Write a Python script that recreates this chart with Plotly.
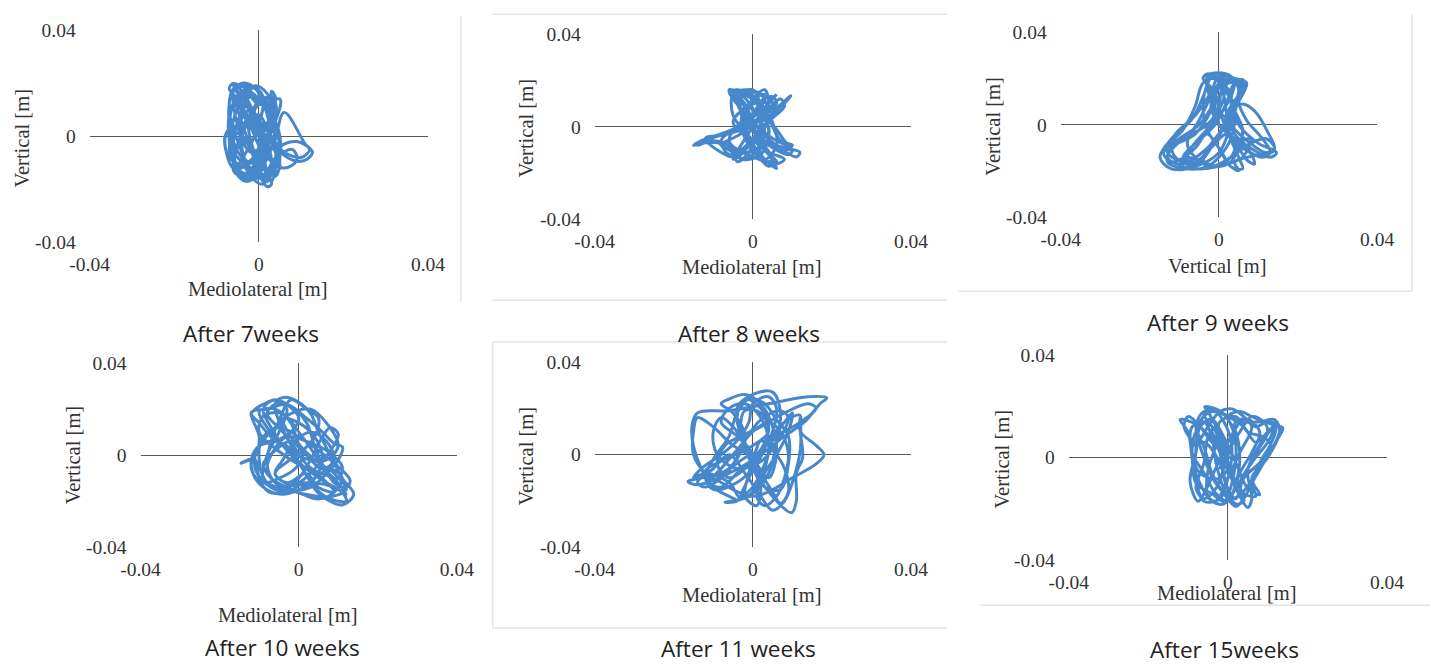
import plotly.graph_objects as go

W, H = 1431, 666

# ---------------- data (mm) ----------------
p7_x = [0, 0, -5, -6, -3, 2, 4, 3, 1, -4, -7, -6, -2, 1, -1, -5, -3, 1, 3, 3, 4, 2, -2, -6, -8, -7, -4, 0, 3, 2, 0, -2,
        -5, -6, -4, 0, 5, 4, 0, -5, -1, 4, 5, 2, -3, -6, -7, -6, -2, 3, 6, 11, 12.7, 11, 8, 4, 2, 0, -3, -4, -2, 1, 4,
        8, 9, 6, 2, 0, -3, -6, -5, -2, 1, 0,
        -3, -6, -5, -2, 1, 2, -1, -6, -7, -4, -1, 2, 3, 5, 3, -1, -3, -5, -3, 0, 3, 4, 2, 0, -4, -6, -5, -2, 0, -3,
        -6, -7, -5, -2, 2, 3, 1, -1, 1, 3, 1, -3, -7, -8, -6, -3, 0, 4, 5, 4, 2, -2, -4, -4, -1, 3, 5, 9, 12, 10, 6,
        3, 0, -4, -6, -6, -3, 0, 2, 0,
        -2, -5, -7, -6, -4, -1, 1, 0, -3, -6, -5, -2, 2, 4, 3, 0, -3, -5, -6, -4, -1, 2, 4, 2, -1, -4, -7, -5, -2, 1,
        3, 1, -2, -4, -3, 0]
p7_y = [0, 2, 19, 20, 18, 10, -5, -17, -12, -8, 5, 17, 19, 15, 0, -13, -15, -10, 5, 17, 14, 5, -10, -12, -1, 2, 0, -8,
        -18, -19, -14, -4, 10, 18, 19, 12, 14, 6, -6, -14, -16, -12, 0, 10, 16, 12, -2, -9, -12, -5, 9, -3, -6, -9, -9,
        -4, 3, 8, 6, -4, -14, -15, -8, -5, -9, -12, -8, 0, 8, 15, 4, -6, -3, 0,
        12, 19, 16, 4, -8, -16, -13, -6, 8, 17, 18, 8, -2, -12, -14, -6, 6, 14, 17, 14, 15, 12, 0, -11, -15, -13, -4,
        8, 16, 20, 18, 10, -2, -12, -17, -10, 0, 10, 14, 9, -3, -11, -8, 0, 4, -2, -10, -15, -8, 4, 12, 15, 8, -6,
        -14, -13, -4, -2, -5, -8, -6, 0, 6, 12, 6, -8, -16, -12, -2, 0,
        6, 14, 18, 20, 17, 8, -4, -14, -17, -12, -3, 8, 14, 12, 2, -8, -14, -12, -2, 10, 19, 16, 4, -8, -16, -14, -5,
        4, 10, 2, -10, -18, -15, -6, 4, 0]

p8_x = [0, -4, -6, -3, 2, 4, 2, -3, -6, -13, -15, -13, -5, 0, 3, 1, -3, -2, 1, 5, 6, 4, -1, -5, -5, -2, 2, 5, 9, 9.6,
        8, 3, -2, -5, -9, -12, -6, 0, 4, 7, 8, 4, 2, 8, 11.9, 11, 6, 2, -1, -4, -5, -2, 1, 3, 8, 6, 0, -4, -8, -3, 2, 6,
        5, 2, 0, -3, -6, -2, 3, 4, 1, -2, 0,
        -3, -5, -4, 0, 2, 1, -2, -4, -5, -10, -14, -11, -4, 2, 5, 3, -1, -3, -1, 3, 5, 2, -2, -4, -2, 1, 3, 6, 8, 5,
        1, -3, -6, -8, -4, 0, -3, -6, -4, 0, 5, 10, 9, 4, 0, -2, 0, 3, 4, 2, 3, 6, 4, 1, -2, -5, -2, 2, 4, 7, 10, 7,
        3, 0,
        -2, -5, -6, -3, 0, 3, 1, -2, -6, -10, -13, -9, -4, 0, 4, 6, 3, 0, -3, -5, -3, 1, 4, 8, 10, 6, 2, -1, -3, 0, 2,
        5, 6, 3, 0]
p8_y = [0, 14, 16, 15, 8, -2, -12, -14, -8, -7, -8, -6, -1, 5, 12, 15, 12, 0, -10, -17, -18, -12, -4, 5, 14, 16, 14,
        6, 12, 13.5, 11, 0, -9, -13, -10, -5, -3, 2, 8, 12, 9, 2, -5, -9, -11, -13, -8, -2, 6, 13, 15, 10, -3, -10,
        -14, -16, -13, -10, -8, -3, 4, 10, 13, 11, 5, 2, -6, -11, -8, 0, 6, 9, 0,
        8, 15, 16, 13, 6, -4, -13, -15, -9, -6, -8, -5, -2, 3, 10, 14, 10, 2, -8, -15, -14, -6, 4, 11, 15, 12, 3, 8,
        11, 5, -3, -10, -12, -6, 0, 6, 14, 15, 10, 2, -5, -10, -12, -8, -2, 5, 12, 16, 10, 0, -10, -15, -17, -12, -4,
        2, 8, 10, 4, -6, -8, -10, -6, 0,
        6, 12, 16, 14, 8, -2, -10, -14, -10, -6, -7, -4, -1, 4, 10, 14, 8, 0, -8, -14, -12, -4, 2, -6, -10, -8, -2, 6,
        14, 16, 10, 2, -8, -14, 0]

p9_x = [0, -3, -1, 3, 5, 3, 0, -6, -12, -14.9, -12, -7, -4, -2, 2, 6, 6.6, 3, 0, -5, -10, -13, -9, -3, 1, 2, 4, 3, 5,
        10, 14.6, 13, 8, 4, 2, 6, 9, 12, 14, 10, 4, 5, 3, 0, -3, -6, -10, -13, -11, -6, -2, 0, 4, 7, 5, 2, -1, -4, -1,
        3, 5, 8, 6, 2, -4, -9, -7, -3, 1, 3, 0, -2, 0,
        -2, -3, 0, 2, 4, 3, 0, -3, -8, -13, -12, -6, -2, 0, 3, 5, 4, 1, -2, -5, -9, -6, -1, 2, 4, 6, 5, 7, 11, 13, 11,
        7, 3, 1, -1, -3, -4, -3, 0, 3, 6, 5, 3, 2, 1, -1, -4, -6, -9, -12, -11, -7, -3, 0, 3, 6, 4, 1, 0, -2, -5, -8,
        -10, -6, -2, 2, 5, 7, 9, 8, 4, 0,
        -1, -2, -4, -3, 0, 2, 4, 6, 5, 3, 0, -4, -8, -12, -14, -10, -5, -1, 2, 1, -2, -5, -8, -6, -2, 3, 8, 12, 14, 12,
        8, 4, 1, -1, 0]
p9_y = [0, 21, 22.4, 21, 15, 0, -12, -18, -19, -14, -6, 2, 12, 20, 18, 19.5, 17, 8, -4, -13, -17, -14, -6, 0, 10, 20,
        19, 10, 0, -8, -12, -14, -10, -4, 5, 9, 6, -2, -11, -13, -16, -19.8, -18, -10, -4, -10, -15, -12, -4, 4, 14,
        21, 20, 18, 10, 0, -6, -15, -18, -14, -8, -6, -14, -17, -19, -18, -10, -2, 6, 14, 17, 8, 0,
        10, 20, 22, 16, 6, -6, -14, -18, -19, -16, -10, -4, 6, 16, 20, 18, 8, -2, -10, -16, -14, -8, 0, 10, 18, 18,
        10, 2, -6, -12, -14, -11, -6, 2, 12, 16, 8, -2, -10, -18, -19, -14, -6, 4, 14, 20, 18, 8, -2, -8, -14, -17,
        -12, -4, 6, 14, 20, 17, 8, 0, -6, -12, -18, -17, -10, -4, -10, -15, -17, -12, -6, 0,
        8, 16, 20, 22, 20, 14, 6, -2, -10, -16, -18, -16, -14, -16, -12, -6, 0, 10, 18, 20, 12, 2, -8, -14, -18, -14,
        -8, -6, -10, -12, -8, -2, 4, 2, 0]

p10_x = [0, -6, -4, 0, 3, 5, 8, 11, 13.9, 11, 6, 2, -3, -7.6, -10, -11, -14.6, -11, -10, -12, -8, -3, 2, 6, 9, 11.1,
         10, 7, 3, -2, -6, -8, -7, -5, -2, 2, 5, 4, 1, -3, -6, -2, 4, 9, 12, 10, 6, 3, 0, -4, -9, -10, -6, 0, 6, 10, 11,
         7, 2, -3, -6, -8, -4, 2, 8, 12, 9, 4, 0, -2, -6, -10, -8, -4, 0,
         -4, -8, -6, -2, 2, 4, 6, 9, 12, 13, 10, 5, 0, -5, -9, -10, -8, -4, 0, 3, 6, 8, 10, 8, 4, 0, -5, -9, -8, -5,
         -3, -6, -9, -7, -3, 2, 7, 11, 12, 8, 4, 1, -2, -6, -10, -11, -7, -2, 3, 6, 4, 0, -4, -2, 2, 6, 9, 7, 3, -1,
         -4, -6, -3, 2, 5, 9, 6, 2, 0,
         -3, -7, -10, -12, -11, -9, -6, -3, 0, -2, -6, -10, -12, -11, -8, -4, 0, 4, 8, 11, 9, 5, 1, -3, -7, -9, -6, -2,
         1, -1, -5, -9, -12, -10, -6, -2, 3, 7, 10, 7, 3, 0]
p10_y = [0, 22, 25, 23, 18, 10, 0, -10, -17, -21.6, -18, -12, -16, -16, -10, -2, -3.5, 0, 8, 18.6, 20, 22, 16, 10, 5,
         3.5, -2, -8, -14, -15, -12, -4, 6, 15, 24, 20, 16, 8, 2, -3, -8, -13, -12, -14, -17, -12, -5, 3, 10, 18, 17,
         10, 3, -4, -8, -10, -5, 2, 6, 8, 3, -7, -14, -17, -18, -15, -8, -2, 5, 14, 20, 19, 12, 4, 0,
         10, 18, 22, 21, 14, 4, -4, -12, -14, -11, -5, 2, 8, 12, 8, -2, -12, -15, -10, -2, 8, 12, 9, 2, -6, -12, -14,
         -10, 0, 10, 20, 24, 20, 12, 2, -6, -12, -16, -20, -19, -14, -6, 2, 6, 4, -6, -14, -16, -12, -2, 8, 14, 16, 8,
         0, -6, -2, 6, 10, 6, -2, -8, -12, -8, -14, -16, -10, -4, 0,
         4, 8, 14, 18, 20, 22, 24, 22, 16, 10, 6, 4, -2, -10, -15, -17, -15, -10, -6, -10, -16, -19, -17, -14, -10, -4,
         2, 6, 0, -6, -10, -12, -6, 4, 12, 18, 20, 14, 4, -2, -2, 0]

p11_x = [0, -8, -16.4, -14, -6, 2, 8, 13, 17, 18.7, 14, 4, -6, -14, -15.4, -14, -10, -4, -7, -1, 4, 6, 7, 5, 0, -4,
         -3, 0, 4, 9.8, 11, 11, 12.6, 12, 11.9, 8, 4, 1, -4, -10, -12, -10, -6, -4, -1, 3, 6, 9, 9, 7, 3, 0, -2, -5, -8,
         -10, -9, -4, 2, 6, 9, 7, 2, -2, -5, -10, -12, -7, 0, 4, 2, -2, -3, 0, 2, 1, -2, -1, 0,
         -4, -8, -6, -2, 2, 4, 3, 0, -3, -6, -12, -15, -13, -8, -4, -1, 0, 4, 6, 5, 2, -1, -3, 0, 3, 5, 8, 10, 9, 6,
         3, 1, 3, 6, 8, 9, 7, 4, 0, -4, -8, -11, -8, -4, 0, 4, 8, 12, 16, 14, 8, 2, -3, -7, -9, -6, -2, 2, 4, 2, -2,
         -4, -2, 2, 5, 7, 9, 8, 5, 2, 0,
         -5, -10, -14, -15, -15, -12, -8, -4, 0, 4, 10, 16, 18, 16, 12, 12, 12, 10, 8, 5, 2, -2, -6, -10, -14, -12, -8,
         -4, -2, -5, -8, -6, -2, 2, 5, 6, 4, 1, 0]
p11_y = [0, -8, -11.6, -13, -8, 0, 8, 14, 22, 24.5, 25, 22, 19, 18, 12, -2, -14, -20, -20.6, -18, -8, 6, 18, 27, 26,
         20, 8, -5, -16, -25, -20, -8, -1.3, 10, 17, 14, 6, -4, -12, -15, -10, -2, 8, 18, 24, 22, 15, 8, -4, -15, -14,
         -6, 4, 12, 16, 10, 0, -6, -3, 5, 16, 19, 15, 6, -4, -11, -7, -2, 4, 10, 18, 19, 10, -2, -14, -22, -18, -8, 0,
         8, 14, 20, 22, 16, 6, -6, -16, -19, -12, -8, -10, -6, 0, 6, 14, 22, 25, 20, 10, 0, -10, -18, -14, -4, 6, 14,
         18, 10, 0, -8, -18, -22, -18, -10, 0, 10, 14, 10, 2, -6, -12, -14, -8, -2, 6, 10, 14, 20, 22, 18, 12, 8, 4,
         -4, -10, -6, 2, 12, 20, 24, 16, 4, -8, -16, -21, -16, -6, 2, 6, 0,
         4, 12, 16, 10, 0, -8, -12, -16, -18, -16, -10, -4, 0, 4, 10, 16, 2, -12, -20, -24, -18, -8, 0, -6, -12, -14,
         -10, -2, 8, 18, 22, 24, 26, 22, 12, 0, -10, -4, 0]

p15_x = [0, -5, -5.8, -3, 0, 2, 1, -1, -4, -8, -9, -10, -12, -8, -3, 0, 3, 5, 6, 5, 8, 12, 13.8, 12, 8, 4, 1, -3, -6,
         -8, -6, -1, 3, 8, 11.8, 13, 10, 6, 8, 5, 2, -1, -4, -7, -8, -9.5, -7.5, -6, -3, 0, 4, 6, 3, 0, -3, -5, -5, -3,
         -2, 2, 5, 9, 11, 8, 4, 2, 0, -2, -6, -9, -7, -2, 1, 0,
         -3, -6, -4, -1, 1, 0, -2, -6, -8, -8, -7, -4, 0, 4, 7, 10, 12, 10, 6, 3, 4, 2, -1, -3, -4, -6, -9, -9, -6, -3,
         0, 2, 3, 2, 0, 3, 6, 9, 12, 11, 8, 6, 7, 4, 1, -1, -3, -5, -6, -8, -6, -3, -1, 1, 2, 5, 8, 6, 3, 1, -1, -2,
         -4, -2, 0,
         -4, -8, -10, -11, -8, -5, -2, 1, 4, 7, 10, 13, 12, 9, 6, 4, 2, -1, -4, -6, -8, -9, -7, -4, -1, 2, 5, 8, 10, 9,
         6, 3, 0, -2, 0]
p15_y = [0, 18, 19.8, 19, 15, 5, -10, -17, -14, -10, 0, 10, 14.8, 13, 5, -5, -15, -19.4, -16, -5, 5, 12, 11.6, 6, -4,
         -13, -16, -10, 0, 12, 18, 17, 14, 14, 14.8, 10, 0, -8, -14.4, -12, -2, 8, 15, 12, 2, -9.3, -17, -14, -4, 6,
         15, 12, 2, -8, -17, -15, -5, 5, 14, 16, 10, 8, 4, -2, -8, -16, -12, -2, 6, 4, -6, -8, 0, 0,
         10, 17, 19, 14, 4, -8, -16, -17, -8, 4, 14, 18, 16, 12, 6, 10, 13, 6, -2, -10, -17, -18, -12, -2, 8, 14, 12,
         2, -6, -14, -17, -10, 0, 10, 16, 18, 16, 14, 12, 6, -2, -10, -15, -14, -6, 4, 12, 8, -2, -12, -16, -12, -4,
         6, 14, 15, 10, 2, -6, -14, -8, 2, 10, 4, 0,
         6, 14, 16, 12, 6, 12, 18, 19, 16, 12, 14, 12, 6, -2, -10, -16, -19, -14, -6, 4, 10, 0, -10, -17, -18, -12, -4,
         4, 10, 14, 16, 10, 2, -4, 0]

tick_vals = [-0.04, 0, 0.04]
tick_text = ["-0.04", "0", "0.04"]
x_titles = ["Mediolateral [m]", "Mediolateral [m]", "Vertical [m]",
            "Mediolateral [m]", "Mediolateral [m]", "Mediolateral [m]"]
y_title = "Vertical [m]"
captions = ["After 7weeks", "After 8 weeks", "After 9 weeks",
            "After 10 weeks", "After 11 weeks", "After 15weeks"]
series = [(p7_x, p7_y), (p8_x, p8_y), (p9_x, p9_y),
          (p10_x, p10_y), (p11_x, p11_y), (p15_x, p15_y)]

# ---------------- layout geometry (target screen pixels) ----------------
boxes = [(88, 427, 29, 242), (594, 911, 33, 219), (1061, 1378, 31, 217),
         (139, 456, 363, 548), (594, 911, 362, 548), (1069, 1388, 355, 561)]
xt_pos = [(257, 289), (752, 267), (1218, 266), (287, 616), (752, 596), (1228, 594)]
yt_pos = [(20, 137), (525, 127), (993, 125), (71, 455), (525, 456), (1002, 459)]
cap_pos = [(250, 333), (749, 333), (1219, 322), (281, 648), (738, 649), (1225, 650)]

# the photographed page shows the figure slightly inset; compensate for it
KX, CX = 0.9761, 18.2
KY, CY = 0.9718, 8.8
FS = 1 / 0.974


def px(x):
    return ((x - CX) / KX) / W


def py(y):
    return 1 - ((y - CY) / KY) / H


SERIF = "Liberation Serif"
SANS = "Open Sans"
LINE = "#4787cc"
AXC = "#595959"

fig = go.Figure()
annotations = []
layout_axes = {}
for i, ((xs, ys), (l, r, t, b)) in enumerate(zip(series, boxes)):
    n = "" if i == 0 else str(i + 1)
    fig.add_trace(go.Scatter(
        x=[v / 1000 for v in xs], y=[v / 1000 for v in ys],
        mode="lines", line=dict(color=LINE, width=2.9 * FS, shape="spline", smoothing=1.0),
        xaxis="x" + n, yaxis="y" + n, showlegend=False, hoverinfo="skip"))
    common = dict(range=[-0.04, 0.04], tickvals=tick_vals, ticktext=tick_text,
                  showgrid=False, showline=False, ticks="", zeroline=True,
                  zerolinecolor=AXC, zerolinewidth=1.2, fixedrange=True,
                  tickfont=dict(family=SERIF, size=19 * FS, color="#333333"))
    layout_axes["xaxis" + n] = dict(common, domain=[px(l), px(r)], anchor="y" + n,
                                    ticklabelstandoff=8)
    layout_axes["yaxis" + n] = dict(common, domain=[py(b), py(t)], anchor="x" + n,
                                    ticklabelstandoff=13)
    annotations.append(dict(text=x_titles[i], x=px(xt_pos[i][0]), y=py(xt_pos[i][1]),
                            xref="paper", yref="paper", showarrow=False,
                            xanchor="center", yanchor="middle",
                            font=dict(family=SERIF, size=20 * FS, color="#333333")))
    annotations.append(dict(text=y_title, x=px(yt_pos[i][0]), y=py(yt_pos[i][1]),
                            xref="paper", yref="paper", showarrow=False, textangle=-90,
                            xanchor="center", yanchor="middle",
                            font=dict(family=SERIF, size=20 * FS, color="#333333")))
    annotations.append(dict(text=captions[i], x=px(cap_pos[i][0]), y=py(cap_pos[i][1]),
                            xref="paper", yref="paper", showarrow=False,
                            xanchor="center", yanchor="middle",
                            font=dict(family=SANS, size=22 * FS, color="#222222")))

BORDER = "#d9d9d9"
frame_lines = [
    (460, 15, 460, 302),
    (491, 13, 947, 13),
    (491, 300, 947, 300),
    (1413, 13, 1413, 291),
    (958, 291, 1413, 291),
    (492, 342, 947, 342),
    (492, 342, 492, 629),
    (492, 629, 947, 629),
    (980, 606, 1431, 606),
]
shapes = [dict(type="line", xref="paper", yref="paper", x0=px(a), y0=py(b2), x1=px(c), y1=py(d),
               line=dict(color=BORDER, width=1)) for a, b2, c, d in frame_lines]

fig.update_layout(width=W, height=H, margin=dict(l=0, r=0, t=0, b=0),
                  paper_bgcolor="white", plot_bgcolor="white",
                  annotations=annotations, shapes=shapes, **layout_axes)
fig.write_html("out.html", config={"displayModeBar": False},
               post_script="document.body.style.margin='0';document.body.style.overflow='hidden';")
